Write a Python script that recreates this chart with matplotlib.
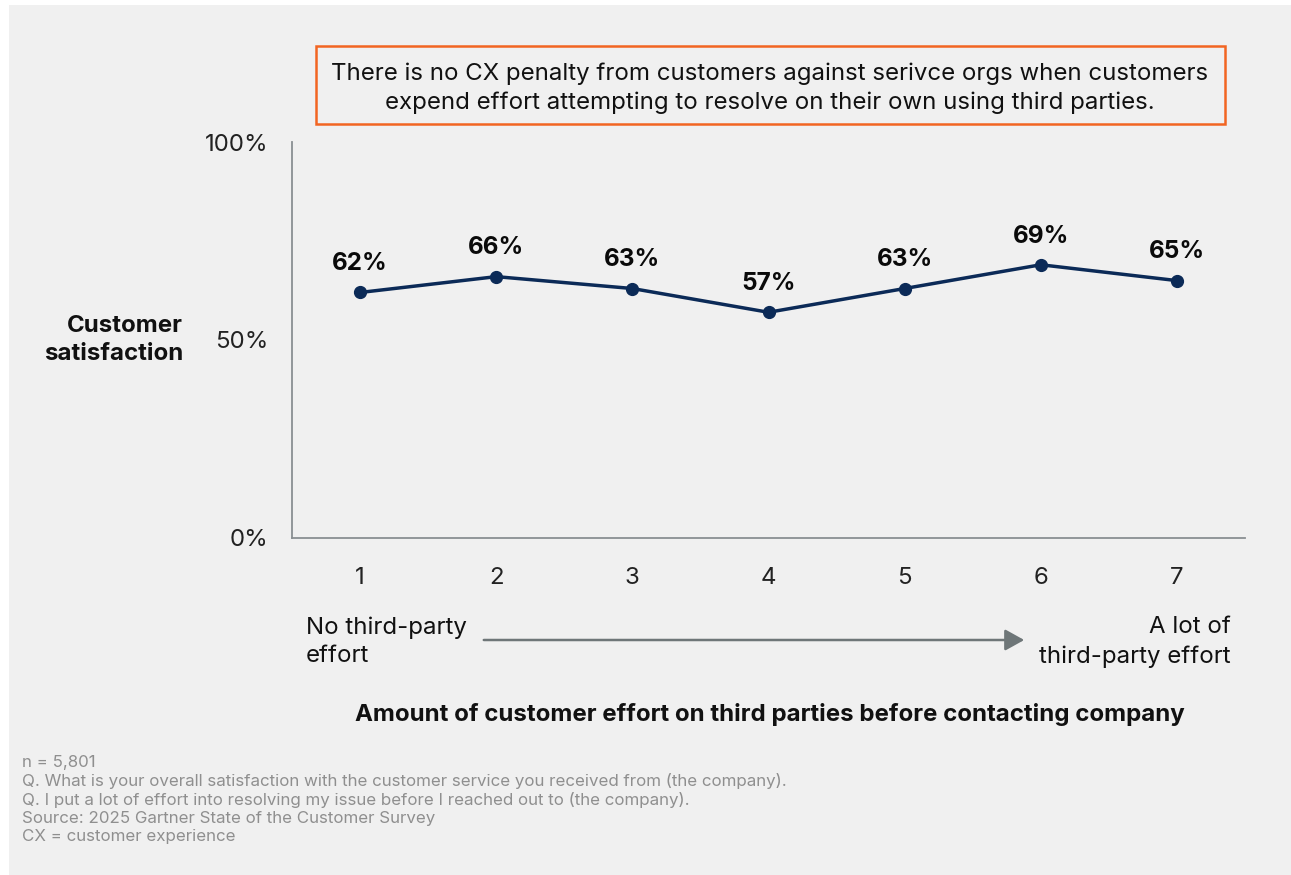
import matplotlib
matplotlib.use("Agg")
import matplotlib.pyplot as plt
from matplotlib.patches import Rectangle, FancyArrowPatch

plt.rcParams['font.family'] = ['Inter', 'DejaVu Sans']

# data
effort = [1, 2, 3, 4, 5, 6, 7]
satisfaction = [62, 66, 63, 57, 63, 69, 65]
y_ticks = [0, 50, 100]
y_tick_labels = ["0%", "50%", "100%"]

title_text = ("There is no CX penalty from customers against serivce orgs when customers\n"
              "expend effort attempting to resolve on their own using third parties.")
footnotes = [
    "n = 5,801",
    "Q. What is your overall satisfaction with the customer service you received from (the company).",
    "Q. I put a lot of effort into resolving my issue before I reached out to (the company).",
    "Source: 2025 Gartner State of the Customer Survey",
    "CX = customer experience",
]

W, H = 1291, 875
fs = 17.3
fig = plt.figure(figsize=(W / 100, H / 100), dpi=100)
fig.patch.set_facecolor("white")
# grey panel behind everything
fig.patches.append(Rectangle((9 / W, 0), 1, 1 - 5 / H, transform=fig.transFigure,
                             facecolor="#f0f0f0", edgecolor="none", zorder=-10))

ax = fig.add_axes([292 / W, 1 - 538 / H, (1245 - 292) / W, (538 - 142) / H])
ax.set_facecolor("none")

navy = "#0b2a57"
ax.plot(effort, satisfaction, color=navy, lw=2.5, marker="o", ms=8.5, zorder=3)
for x, y in zip(effort, satisfaction):
    ax.annotate(f"{y}%", (x, y), xytext=(0, 16), textcoords="offset points",
                ha="center", va="baseline", fontsize=17.5, fontweight="bold", color="#0a0a0a")

ax.set_xlim(0.5, 7.5)
ax.set_ylim(0, 100)
ax.set_yticks(y_ticks)
ax.set_yticklabels(y_tick_labels)
ax.set_xticks(effort)
ax.tick_params(axis="both", length=0, labelsize=fs, colors="#222222")
ax.tick_params(axis="y", pad=17)
ax.tick_params(axis="x", pad=21)
for s in ["top", "right"]:
    ax.spines[s].set_visible(False)
for s in ["left", "bottom"]:
    ax.spines[s].set_color("#8a8f92")
    ax.spines[s].set_linewidth(1.3)

# y axis label
fig.text(183 / W, 1 - 340 / H, "Customer\nsatisfaction", ha="right", va="center",
         fontsize=fs, fontweight="bold", color="#111111", linespacing=1.4)

# title box
box = Rectangle((316 / W, 1 - 124 / H), (1225 - 316) / W, (124 - 46) / H,
                transform=fig.transFigure, facecolor="none", edgecolor="#f26522",
                lw=1.8, zorder=1)
fig.patches.append(box)
fig.text(770 / W, 1 - 88 / H, title_text, ha="center", va="center", fontsize=fs,
         color="#111111", linespacing=1.38)

# endpoint captions and arrow
fig.text(306 / W, 1 - 642 / H, "No third-party\neffort", ha="left", va="center",
         fontsize=fs, color="#111111", linespacing=1.38)
fig.text(1231 / W, 1 - 642 / H, "A lot of\nthird-party effort", ha="right", va="center",
         fontsize=fs, color="#111111", linespacing=1.38)
fig.add_artist(FancyArrowPatch(
    (481 / W, 1 - 640 / H), (1027 / W, 1 - 640 / H), transform=fig.transFigure,
    arrowstyle="-|>,head_length=9,head_width=5", color="#6e7678", lw=1.8,
    mutation_scale=1.3))

fig.text(770 / W, 1 - 714 / H, "Amount of customer effort on third parties before contacting company",
         ha="center", va="center", fontsize=fs, fontweight="bold", color="#111111")

# footnotes
for i, line in enumerate(footnotes):
    fig.text(22 / W, 1 - (762.5 + i * 18.5) / H, line, ha="left", va="center",
             fontsize=12.2, color="#8f8f8f")

fig.savefig("out.png", dpi=100, facecolor=fig.get_facecolor())
